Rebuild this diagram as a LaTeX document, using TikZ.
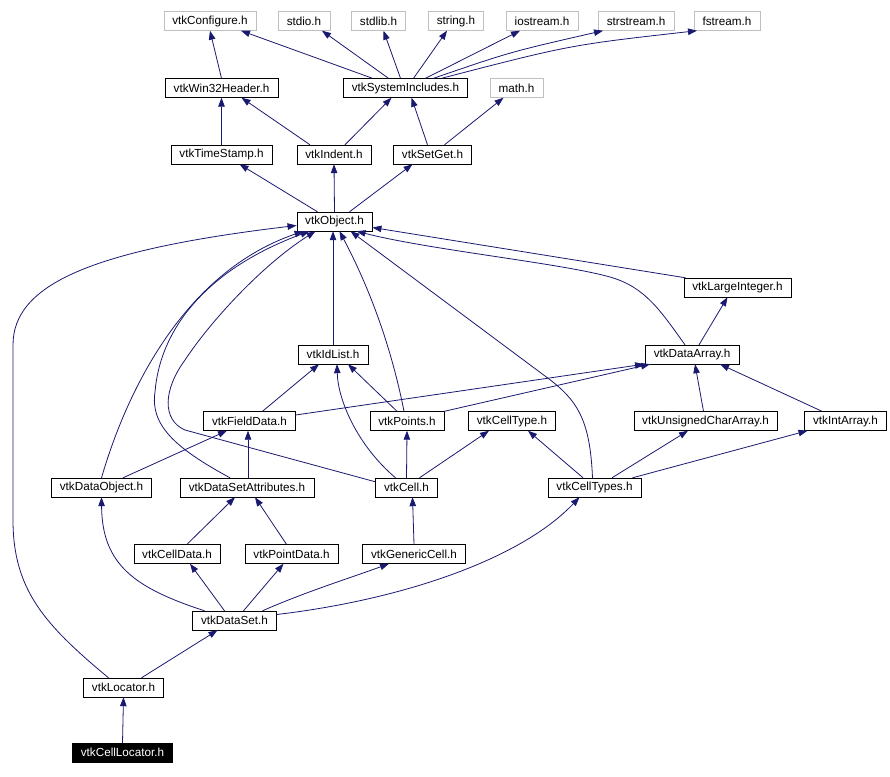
\documentclass[tikz,border=0pt]{standalone}
\usepackage{fontspec}
\setmainfont{Liberation Sans}
\usepackage{tikz}
\usetikzlibrary{arrows.meta}
\definecolor{edgeblue}{RGB}{25,25,112}
\definecolor{extgray}{RGB}{191,191,191}

\begin{document}
\begin{tikzpicture}[x=1pt,y=-1pt,
box/.style={draw,fill=white,minimum height=19pt,inner xsep=8.5pt,inner ysep=0pt,font=\fontsize{11.7}{14}\selectfont},
extbox/.style={box,draw=extgray},
curbox/.style={box,fill=black,text=white},
arr/.style={-{Triangle[length=9pt,width=6.5pt]},edgeblue,line width=0.8pt}]
\useasboundingbox (0,0) rectangle (890,776);
% system and configuration headers
\node[extbox] (conf) at (210,21) {vtkConfigure.h};
\node[extbox] (stdio) at (304,21) {stdio.h};
\node[extbox] (stdlib) at (378.5,21) {stdlib.h};
\node[extbox] (string) at (456,21) {string.h};
\node[extbox] (iostream) at (542,21) {iostream.h};
\node[extbox] (strstream) at (636,21) {strstream.h};
\node[extbox] (fstream) at (727,21) {fstream.h};
\node[box] (win32) at (221.5,88) {vtkWin32Header.h};
\node[box] (sysinc) at (405.5,88) {vtkSystemIncludes.h};
\node[extbox] (math) at (516.5,88) {math.h};
\node[box] (ts) at (221.5,154.5) {vtkTimeStamp.h};
\node[box] (indent) at (334,154.5) {vtkIndent.h};
\node[box] (setget) at (432.5,154.5) {vtkSetGet.h};
\node[box] (obj) at (334.5,221.5) {vtkObject.h};
% data classes
\node[box] (largeint) at (737.5,287.5) {vtkLargeInteger.h};
\node[box] (idlist) at (333,354.5) {vtkIdList.h};
\node[box] (darray) at (692,354.5) {vtkDataArray.h};
\node[box] (fielddata) at (249.5,421) {vtkFieldData.h};
\node[box] (points) at (407,421) {vtkPoints.h};
\node[box] (celltype) at (512,421) {vtkCellType.h};
\node[box] (ucarray) at (705.5,421) {vtkUnsignedCharArray.h};
\node[box] (intarray) at (845.5,421) {vtkIntArray.h};
\node[box] (dataobj) at (101.5,487.5) {vtkDataObject.h};
\node[box] (dsa) at (247,487.5) {vtkDataSetAttributes.h};
\node[box] (cell) at (406.5,487.5) {vtkCell.h};
\node[box] (ctypes) at (594.5,487.5) {vtkCellTypes.h};
\node[box] (celldata) at (177,554) {vtkCellData.h};
\node[box] (pointdata) at (291.5,554) {vtkPointData.h};
\node[box] (gencell) at (414,554) {vtkGenericCell.h};
\node[box] (dataset) at (234.5,620.5) {vtkDataSet.h};
\node[box] (loc) at (123.5,687.5) {vtkLocator.h};
\node[curbox] (cloc) at (122.5,752.5) {vtkCellLocator.h};
% includes, top rows
\draw[arr] (win32.north) -- (conf.south);
\draw[arr] ([xshift=-33pt]sysinc.north) -- ([xshift=31pt]conf.south);
\draw[arr] ([xshift=-17pt]sysinc.north) -- ([xshift=18pt]stdio.south);
\draw[arr] ([xshift=-5pt]sysinc.north) -- ([xshift=5pt]stdlib.south);
\draw[arr] ([xshift=8pt]sysinc.north) -- ([xshift=-9pt]string.south);
\draw[arr] ([xshift=20pt]sysinc.north) -- ([xshift=-22pt]iostream.south);
\draw[arr] ([xshift=28pt]sysinc.north) .. controls (510,52) .. ([xshift=-33pt]strstream.south);
\draw[arr] ([xshift=36pt]sysinc.north) .. controls (570,45) .. ([xshift=-30pt]fstream.south);
\draw[arr] (ts.north) -- (win32.south);
\draw[arr] ([xshift=-24pt]indent.north) -- ([xshift=20pt]win32.south);
\draw[arr] ([xshift=11pt]indent.north) -- ([xshift=-14pt]sysinc.south);
\draw[arr] ([xshift=-5pt]setget.north) -- ([xshift=6pt]sysinc.south);
\draw[arr] ([xshift=12pt]setget.north) -- ([xshift=-13pt]math.south);
\draw[arr] ([xshift=-17pt]obj.north) -- ([xshift=18pt]ts.south);
\draw[arr] (obj.north) -- (indent.south);
\draw[arr] ([xshift=15pt]obj.north) -- ([xshift=-20pt]setget.south);
% includes of vtkObject.h
\draw[arr] ([xshift=-15pt]loc.north) .. controls (45,625) and (13,590) .. (13,520) -- (13,345) .. controls (13,285) and (90,250) .. ([yshift=-4pt]obj.west);
\draw[arr] (dataobj.north) .. controls (130,380) and (190,270) .. ([xshift=-31pt]obj.south);
\draw[arr] ([xshift=-17pt]dsa.north) .. controls (175,448) and (150,425) .. (155,392) .. controls (160,330) and (205,270) .. ([xshift=-25pt]obj.south);
\draw[arr] ([yshift=-4pt]cell.north west) -- (185,430) .. controls (162,420) and (163,390) .. (185,360) .. controls (210,322) and (262,265) .. ([xshift=-19pt]obj.south);
\draw[arr] (idlist.north) -- ([xshift=-1.5pt]obj.south);
\draw[arr] ([xshift=-3pt]points.north) .. controls (388,330) and (360,270) .. ([xshift=5pt]obj.south);
\draw[arr] ([xshift=-2pt]ctypes.north) .. controls (590,420) and (578,400) .. (545,376) -- ([xshift=16pt]obj.south);
\draw[arr] ([xshift=-7pt]darray.north) .. controls (660,310) and (645,287) .. (610,277) .. controls (560,263) and (430,250) .. ([xshift=22pt]obj.south);
\draw[arr] ([xshift=2pt]largeint.north west) -- ([yshift=-6pt]obj.east);
% data arrays and lists
\draw[arr] ([xshift=7pt]darray.north) -- ([xshift=-10pt]largeint.south);
\draw[arr] ([xshift=13pt]fielddata.north) -- ([xshift=-14pt]idlist.south);
\draw[arr] ([yshift=6pt]fielddata.east) -- ([xshift=-1pt]darray.south west);
\draw[arr] ([xshift=-10pt]points.north) -- ([xshift=15pt]idlist.south);
\draw[arr] (points.north east) -- ([xshift=5pt]darray.south west);
\draw[arr] ([xshift=-11pt]cell.north) .. controls (357,445) and (338,400) .. ([xshift=4pt]idlist.south);
\draw[arr] (cell.north) -- (points.south);
\draw[arr] ([xshift=13pt]cell.north) -- ([xshift=-23pt]celltype.south);
\draw[arr] ([xshift=-11.5pt]ctypes.north) -- ([xshift=16pt]celltype.south);
\draw[arr] ([xshift=17.5pt]ctypes.north) -- ([xshift=-17.5pt]ucarray.south);
\draw[arr] ([xshift=38pt]ctypes.north) -- ([xshift=-38pt]intarray.south);
\draw[arr] ([xshift=-2pt]ucarray.north) -- ([xshift=3pt]darray.south);
\draw[arr] ([xshift=-23.5pt]intarray.north) -- ([xshift=28pt]darray.south);
\draw[arr] ([xshift=21.5pt]dataobj.north) -- ([xshift=-22.5pt]fielddata.south);
\draw[arr] ([xshift=1pt]dsa.north) -- ([xshift=-1.5pt]fielddata.south);
% data set and locators
\draw[arr] ([xshift=10pt]celldata.north) -- ([xshift=-12pt]dsa.south);
\draw[arr] ([xshift=-5pt]pointdata.north) -- ([xshift=8pt]dsa.south);
\draw[arr] (gencell.north) -- ([xshift=6pt]cell.south);
\draw[arr] ([xshift=-30pt]dataset.north) .. controls (135,588) and (102,565) .. (dataobj.south);
\draw[arr] ([xshift=-10pt]dataset.north) -- ([xshift=13pt]celldata.south);
\draw[arr] ([xshift=9pt]dataset.north) -- ([xshift=-8pt]pointdata.south);
\draw[arr] ([xshift=28pt]dataset.north) .. controls (305,592) and (350,578) .. ([xshift=-25pt]gencell.south);
\draw[arr] ([yshift=6pt]dataset.east) .. controls (400,600) and (520,560) .. ([xshift=-15pt]ctypes.south);
\draw[arr] ([xshift=18pt]loc.north) -- ([xshift=-17pt]dataset.south);
\draw[arr] (cloc.north) -- (loc.south);
\end{tikzpicture}
\end{document}
